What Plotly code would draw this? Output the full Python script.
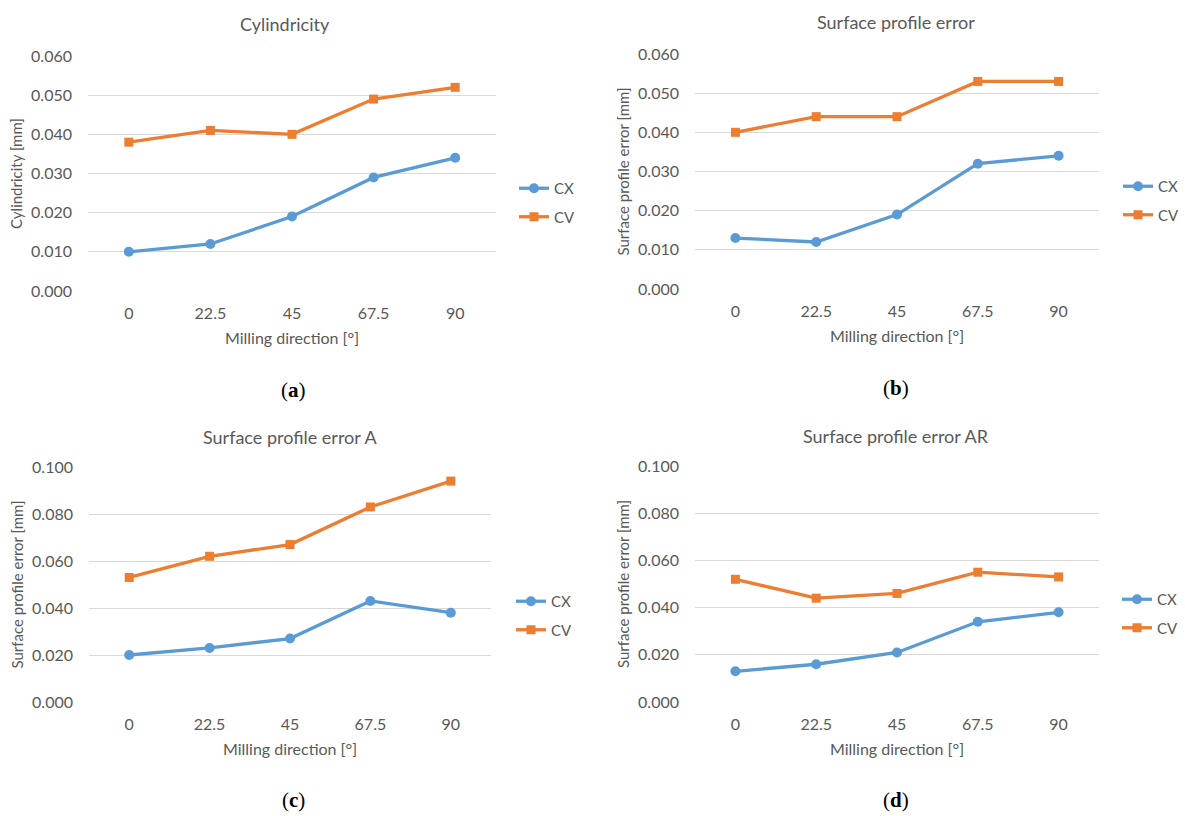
import plotly.graph_objects as go

W, H = 1185, 816

directions = ["0", "22.5", "45", "67.5", "90"]

cyl_cx = [0.010, 0.012, 0.019, 0.029, 0.034]
cyl_cv = [0.038, 0.041, 0.040, 0.049, 0.052]

spe_cx = [0.013, 0.012, 0.019, 0.032, 0.034]
spe_cv = [0.040, 0.044, 0.044, 0.053, 0.053]

spea_cx = [0.020, 0.023, 0.027, 0.043, 0.038]
spea_cv = [0.053, 0.062, 0.067, 0.083, 0.094]

spear_cx = [0.013, 0.016, 0.021, 0.034, 0.038]
spear_cv = [0.052, 0.044, 0.046, 0.055, 0.053]

titles = ["Cylindricity", "Surface profile error", "Surface profile error A", "Surface profile error AR"]
ytitles = ["Cylindricity [mm]", "Surface profile error [mm]", "Surface profile error [mm]", "Surface profile error [mm]"]
xtitle = "Milling direction [°]"
letters = ["a", "b", "c", "d"]
yranges = [0.060, 0.060, 0.100, 0.100]
ydtick = [0.010, 0.010, 0.020, 0.020]

series = [(cyl_cx, cyl_cv), (spe_cx, spe_cv), (spea_cx, spea_cv), (spear_cx, spear_cv)]

# window-pixel layout of each panel: (x0, x1, ytop, ybottom)
panels = [(88, 496, 56, 291), (695, 1099, 54, 289), (89, 491, 467, 702), (695, 1099, 466, 702)]
title_pos = [(285, 24), (896, 22), (290, 437), (896, 436)]
letter_pos = [(293, 390), (896, 388), (293, 800), (896, 800)]
legend_pos = [(514, 172), (1118, 170), (511, 585), (1117, 583)]


def px(x):
    return x / W


def py(y):
    return 1 - y / H


BLUE = "#5B9BD5"
ORANGE = "#ED7D31"
GREY = "#595959"
FONT = "Lato, Open Sans, sans-serif"

fig = go.Figure()
layout = dict(width=W, height=H, margin=dict(l=0, r=0, t=0, b=0, pad=0, autoexpand=False),
              paper_bgcolor="white", plot_bgcolor="white",
              font=dict(family=FONT, color=GREY, size=15), annotations=[])

for i in range(4):
    n = "" if i == 0 else str(i + 1)
    lg = "legend" if i == 0 else f"legend{i+1}"
    cx, cv = series[i]
    fig.add_trace(go.Scatter(x=directions, y=cx, name="CX", mode="lines+markers",
                             line=dict(color=BLUE, width=3.3),
                             marker=dict(symbol="circle", size=10, color=BLUE),
                             xaxis="x" + n, yaxis="y" + n, legend=lg, legendgroup=f"cx{i}"))
    fig.add_trace(go.Scatter(x=directions, y=cv, name="CV", mode="lines+markers",
                             line=dict(color=ORANGE, width=3.3),
                             marker=dict(symbol="square", size=9, color=ORANGE),
                             xaxis="x" + n, yaxis="y" + n, legend=lg, legendgroup=f"cv{i}"))
    x0, x1, yt, yb = panels[i]
    layout["xaxis" + n] = dict(domain=[px(x0), px(x1)], anchor="y" + n, type="category",
                               range=[-0.5, 4.5], showgrid=False, zeroline=False, automargin=False,
                               showline=False, ticks="", ticklabelstandoff=11,
                               tickfont=dict(size=16, color=GREY),
                               title=dict(text=xtitle, font=dict(size=16, color=GREY), standoff=11))
    layout["yaxis" + n] = dict(domain=[py(yb), py(yt)], anchor="x" + n, automargin=False,
                               range=[0, yranges[i]], dtick=ydtick[i], tickformat=".3f",
                               showgrid=True, gridcolor="#D9D9D9", gridwidth=1,
                               zeroline=False, showline=False, ticks="", ticklabelstandoff=15,
                               tickfont=dict(size=16, color=GREY),
                               title=dict(text=ytitles[i], font=dict(size=15, color=GREY), standoff=4))
    lx, ly = legend_pos[i]
    layout[lg] = dict(x=px(lx), y=py(ly), xanchor="left", yanchor="top",
                      font=dict(size=15, color=GREY), bgcolor="rgba(0,0,0,0)",
                      tracegroupgap=6, itemwidth=30)
    tx, ty = title_pos[i]
    layout["annotations"].append(dict(text=titles[i], x=px(tx), y=py(ty), xref="paper", yref="paper",
                                      showarrow=False, xanchor="center", yanchor="middle",
                                      font=dict(size=18, color=GREY, family=FONT)))
    lx2, ly2 = letter_pos[i]
    layout["annotations"].append(dict(text=f"(<b>{letters[i]}</b>)", x=px(lx2), y=py(ly2),
                                      xref="paper", yref="paper", showarrow=False,
                                      xanchor="center", yanchor="middle",
                                      font=dict(size=21, color="black", family="Liberation Serif")))

fig.update_layout(**layout)
fig.write_html("out.html", config={"displayModeBar": False},
               post_script="document.body.style.margin='0px';document.body.style.overflow='hidden';")
